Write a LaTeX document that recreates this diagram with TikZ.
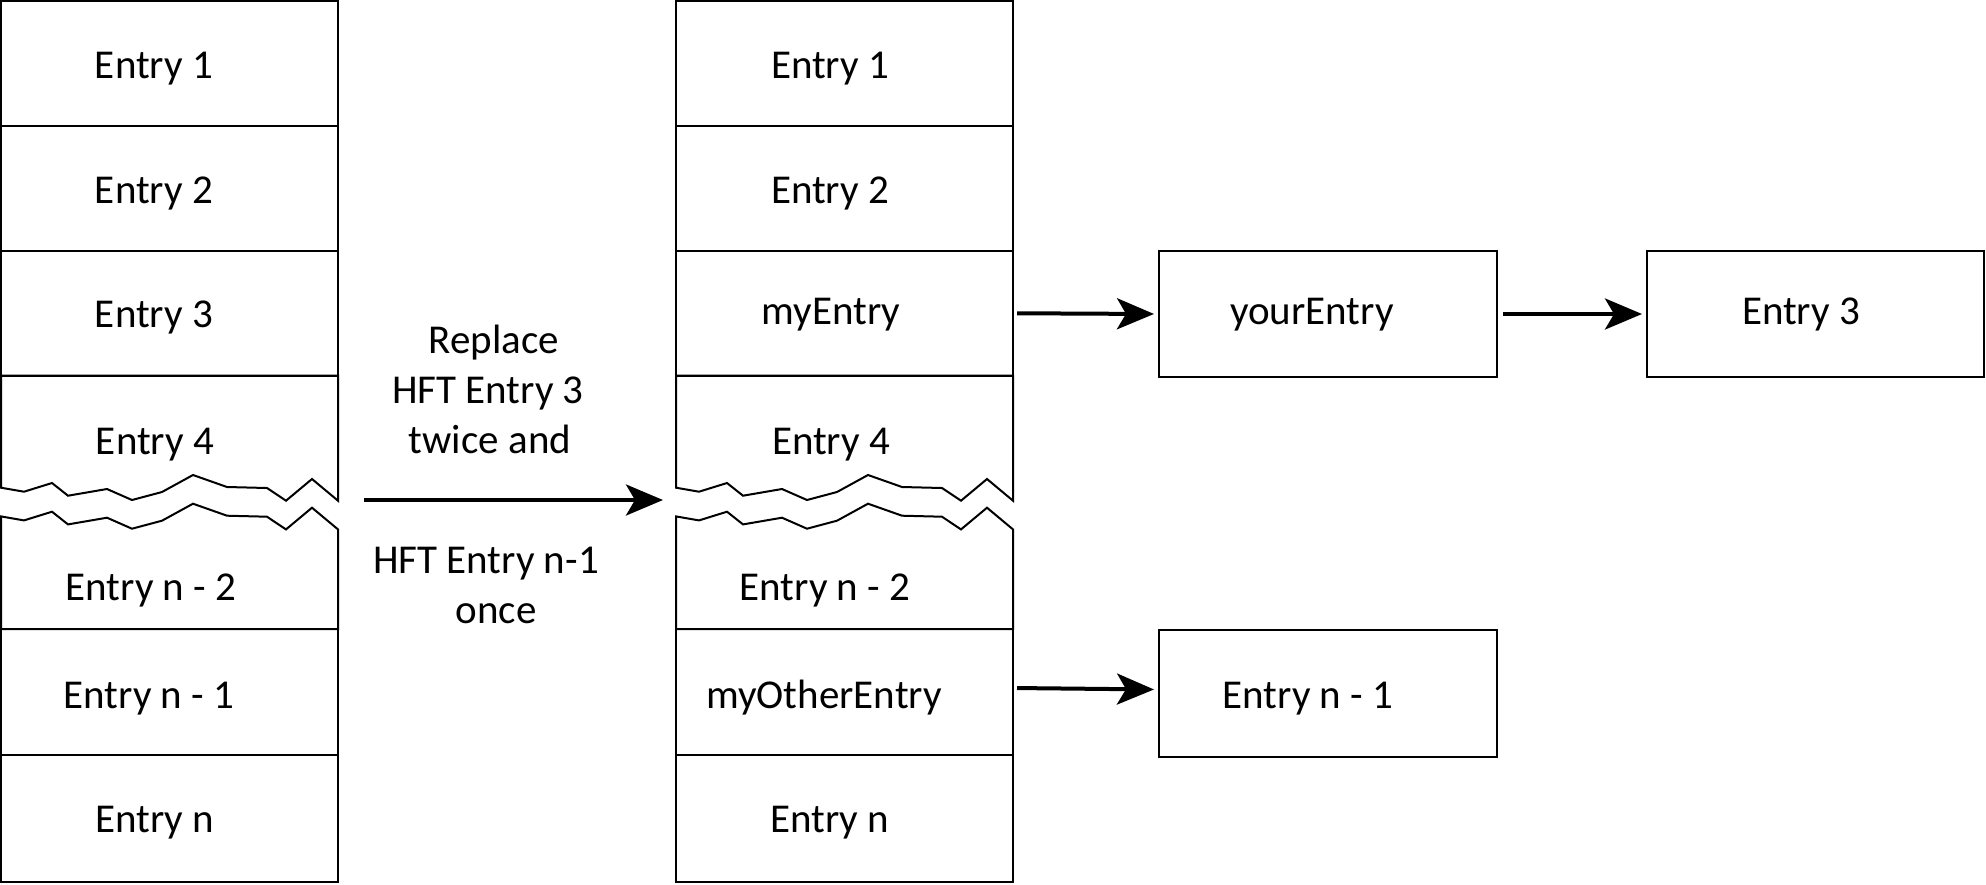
\documentclass[tikz,border=0pt]{standalone}
\usepackage{fontspec}
\setmainfont{Carlito}
\usetikzlibrary{arrows.meta}
\tikzset{
  boxline/.style={draw=black, line width=2pt},
  cell/.style={boxline, rectangle, inner sep=0pt, minimum width=337pt, minimum height=124.5pt},
  rbox/.style={boxline, rectangle, inner sep=0pt, minimum width=338pt, minimum height=126pt},
  lbl/.style={anchor=base, inner sep=0pt, font=\fontsize{41}{49}\selectfont},
  arr/.style={line width=4pt, -{Stealth[length=37pt,width=31pt,inset=9pt]}}
}
\begin{document}
\begin{tikzpicture}[x=1pt,y=-1pt]
\useasboundingbox (0,0) rectangle (1986,884);
% two columns
\foreach \c/\xo in {l/1, m/676}{
  \begin{scope}[xshift=\xo pt]
    \node[cell] (\c1) at (168.5,63.25) {};
    \node[cell] (\c2) at (168.5,188.25) {};
    \node[cell] (\c3) at (168.5,313.25) {};
    \draw[boxline, line join=miter] (0,375.5) -- (337,375.5) -- (337,500.7) -- (311,479) -- (285,500.7) -- (266,488) -- (226,487) -- (192,475) -- (161,492) -- (131,500) -- (106,489) -- (67,495.7) -- (51,483) -- (23,491.7) -- (0,487.7) -- cycle;
    \draw[boxline, line join=miter] (0,516.4) -- (23,520.4) -- (51,511.7) -- (67,524.4) -- (106,517.7) -- (131,528.7) -- (161,520.7) -- (192,503.7) -- (226,515.7) -- (266,516.7) -- (285,529.4) -- (311,507.7) -- (337,529.4) -- (337,629) -- (0,629) -- cycle;
    \node[cell, minimum height=126pt] (\c6) at (168.5,692) {};
    \node[cell, minimum height=127pt] (\c7) at (168.5,818.5) {};
  \end{scope}
}
% left column texts
\node[lbl] (tl1) at (154,78) {Entry 1};
\node[lbl] (tl2) at (154,203) {Entry 2};
\node[lbl] (tl3) at (154,327) {Entry 3};
\node[lbl] (tl4) at (155,454) {Entry 4};
\node[lbl] (tl5) at (151,600) {Entry n - 2};
\node[lbl] (tl6) at (149,708) {Entry n - 1};
\node[lbl] (tl7) at (154.5,832) {Entry n};
% middle column texts
\node[lbl] (tm1) at (830,78) {Entry 1};
\node[lbl] (tm2) at (830,203) {Entry 2};
\node[lbl] (tm3) at (831,324) {myEntry};
\node[lbl] (tm4) at (831,454) {Entry 4};
\node[lbl] (tm5) at (825,600) {Entry n - 2};
\node[lbl] (tm6) at (824,708) {myOtherEntry};
\node[lbl] (tm7) at (830,832) {Entry n};
% right boxes
\node[rbox] (your) at (1328,314) {};
\node[rbox, minimum width=337pt] (e3) at (1815.5,314) {};
\node[rbox, minimum height=127pt] (rn1) at (1328,693.5) {};
\node[lbl] (tyour) at (1312,324) {yourEntry};
\node[lbl] (te3) at (1801,324) {Entry 3};
\node[lbl] (trn1) at (1308,708) {Entry n - 1};
% middle description
\node[lbl] (d1) at (494,353) {Replace};
\node[lbl] (d2) at (488,403) {HFT Entry 3};
\node[lbl] (d3) at (490,453) {twice and};
\node[lbl] (d4) at (486,573) {HFT Entry n-1};
\node[lbl] (d5) at (496,623) {once};
% arrows
\coordinate (ms) at (364,500);
\coordinate (me) at (663,500);
\draw[arr] (ms) -- (me);
\draw[arr, shorten <=3pt, shorten >=4pt] (m3.east) -- (your.west);
\draw[arr, shorten <=5pt, shorten >=4pt] (your.east) -- (e3.west);
\draw[arr, shorten <=3pt, shorten >=4pt] ([yshift=4pt]m6.east) -- ([yshift=4pt]rn1.west);
\end{tikzpicture}
\end{document}
